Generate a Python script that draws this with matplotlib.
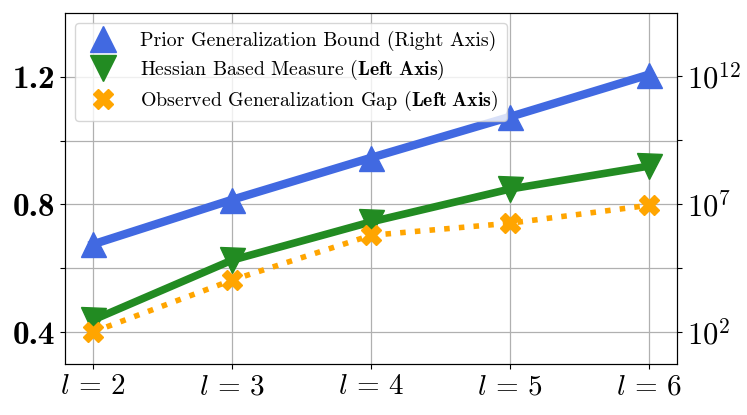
import matplotlib
matplotlib.use("Agg")
import matplotlib.pyplot as plt
from matplotlib.lines import Line2D
import numpy as np

plt.rcParams['font.family'] = 'serif'
plt.rcParams['font.serif'] = ['cmr10', 'DejaVu Serif']
plt.rcParams['mathtext.fontset'] = 'cm'
plt.rcParams['axes.formatter.use_mathtext'] = True
plt.rcParams['axes.unicode_minus'] = False

layers = [2, 3, 4, 5, 6]
x_labels = [r'$l\,=\,2$', r'$l\,=\,3$', r'$l\,=\,4$', r'$l\,=\,5$', r'$l\,=\,6$']
prior_bound_log10 = [5.42, 7.16, 8.8, 10.4, 12.05]
hessian_measure = [0.4375, 0.625, 0.745, 0.848, 0.92]
observed_gap = [0.40, 0.5625, 0.703, 0.741, 0.797]

left_ticks = [0.4, 0.6, 0.8, 1.0, 1.2]
left_labels = ['0.4', '', '0.8', '', '1.2']
right_ticks_log10 = [2, 4.5, 7, 9.5, 12]
right_labels = [r'$10^{2}$', '', r'$10^{7}$', '', r'$10^{12}$']

prior_bound = [10 ** v for v in prior_bound_log10]

fig = plt.figure(figsize=(7.47, 4.15), dpi=100)
ax = fig.add_axes([0.087, 0.123, 0.819, 0.846])
ax2 = ax.twinx()

ax.plot(layers, hessian_measure, color='forestgreen', lw=5.5, marker='v', ms=18, zorder=3)
ax.plot(layers, observed_gap, color='orange', lw=4, ls=':', marker='X', ms=14, zorder=3)
ax2.plot(layers, prior_bound, color='royalblue', lw=6, marker='^', ms=18, zorder=3)

ax.set_ylim(0.3, 1.4)
ax.set_yticks(left_ticks)
ax.set_yticklabels(left_labels, fontsize=24, family='cmb10')
ax.set_xticks(layers)
ax.set_xticklabels(x_labels, fontsize=21)
ax.set_xlim(1.8, 6.2)
ax.grid(True, color='#b0b0b0', lw=0.9)
ax.set_axisbelow(True)

ax2.set_yscale('log')
ax2.set_ylim(10 ** 0.75, 10 ** 14.46)
ax2.set_yticks([10 ** v for v in right_ticks_log10])
ax2.set_yticklabels(right_labels, fontsize=22)
ax2.minorticks_off()

handles = [
    Line2D([], [], color='royalblue', marker='^', ms=19, ls='none'),
    Line2D([], [], color='forestgreen', marker='v', ms=19, ls='none'),
    Line2D([], [], color='orange', marker='X', ms=14, ls='none'),
]
labels = [
    'Prior Generalization Bound (Right Axis)',
    r'Hessian Based Measure ($\mathbf{Left\ Axis}$)',
    r'Observed Generalization Gap ($\mathbf{Left\ Axis}$)',
]
leg = ax2.legend(handles, labels, loc='upper left', fontsize=14.3, framealpha=0.8,
                 borderaxespad=0.5, handletextpad=0.9, labelspacing=0.36)

fig.savefig('out.png', dpi=100)
